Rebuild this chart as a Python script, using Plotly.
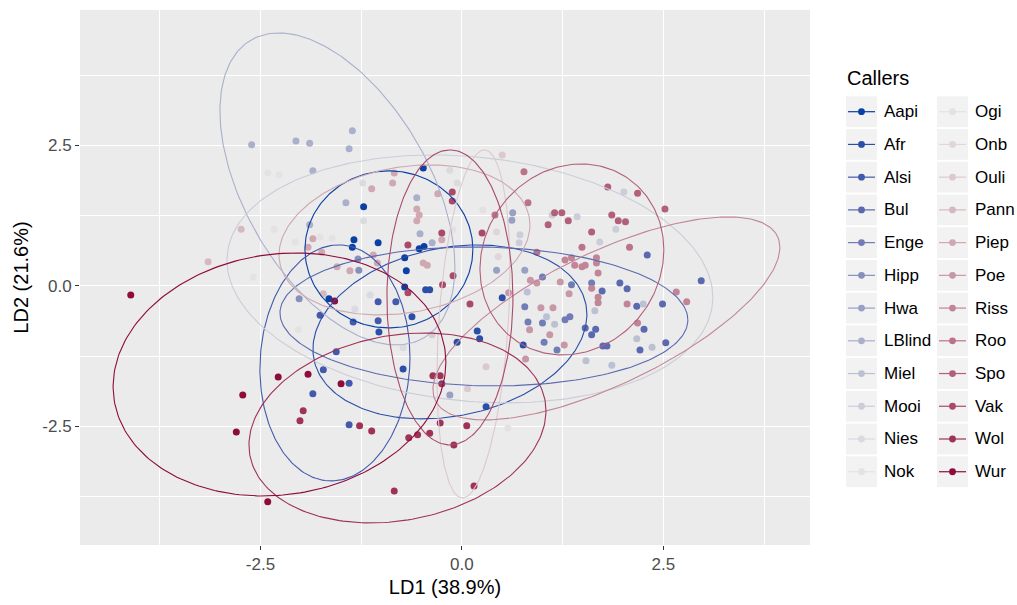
import numpy as np
import plotly.graph_objects as go

# ---- groups and their colours -------------------------------------------
callers = ["Aapi", "Afr", "Alsi", "Bul", "Enge", "Hipp", "Hwa", "LBlind",
           "Miel", "Mooi", "Nies", "Nok", "Ogi", "Onb", "Ouli", "Pann",
           "Piep", "Poe", "Riss", "Roo", "Spo", "Vak", "Wol", "Wur"]
caller_colors = ["#0a3fa3", "#2b4ea8", "#4359ac", "#5a69b0", "#717db6", "#8590bc",
                 "#98a0c3", "#aab0cc", "#bbc0d2", "#cbcdd9", "#d9dbe0", "#e3e3e5",
                 "#e5e1e2", "#e0d6d8", "#dbc9cd", "#d5b9c0", "#cfa8b2", "#c897a5",
                 "#c18597", "#ba7388", "#b25f79", "#a94a69", "#9f3257", "#8e0b3b"]

# ---- LDA scores (LD1, LD2) per caller ------------------------------------
aapi = [(-1.22, 1.41), (-1.34, 0.82), (-1.36, 0.69), (-1.04, 0.77), (-0.47, 0.70),
        (-0.53, 0.66), (-0.71, 0.50), (-0.69, 0.27), (-0.48, 2.10), (-0.71, -0.02),
        (-1.65, -0.23)]
afr = [(0.50, -0.21), (0.19, -0.80), (0.22, -0.94), (-0.06, -1.00), (0.76, -1.05),
       (0.30, -2.15), (-0.45, -0.07), (-0.40, -0.07), (-0.62, -0.55), (-0.73, -1.48),
       (-1.03, -0.82)]
alsi = [(-1.85, -1.92), (-1.40, -2.47), (-1.40, -1.73), (-1.56, -1.17), (-1.72, -1.49),
        (-1.76, -0.52), (-1.35, -0.64), (-1.04, -0.28), (-0.82, -0.28), (-1.04, -0.62)]
bul = [(1.74, -0.09), (2.05, -0.05), (2.17, -0.36), (2.49, -0.32), (1.53, -0.75),
       (1.66, -0.77), (1.61, -0.87), (1.75, -1.07), (1.80, -1.07), (2.21, -1.14),
       (2.26, -0.77), (2.53, -1.01), (2.97, 0.09), (2.30, 0.55), (1.96, 0.05)]
enge = [(0.78, -0.37), (0.82, -0.64), (1.00, -0.66), (1.28, -0.60), (1.34, -0.55),
        (1.02, -1.00), (1.18, -1.14), (1.36, 0.02), (1.61, 0.05), (1.00, 0.16)]
hipp = [(-1.29, 0.48), (-1.28, 0.28), (-2.02, -0.23)]
hwa = [(0.63, 1.30), (0.62, 1.17), (0.43, 0.28), (0.78, 0.28), (-0.15, -1.94)]
lblind = [(-2.61, 2.51), (-2.06, 2.58), (-1.89, 2.54), (-1.36, 2.76), (-1.40, 2.44),
          (-1.85, 2.05), (-1.44, 1.48), (-1.89, 1.09), (-0.56, 1.57), (-0.52, 0.93),
          (-0.37, 0.77)]
miel = [(0.81, -0.11), (1.05, -0.55), (1.15, -0.68), (1.65, -0.44), (2.25, -0.32),
        (2.17, -0.94), (2.36, -1.09), (1.54, -1.33), (1.86, -1.41)]
mooi = [(2.01, 1.67), (1.43, 1.23), (1.12, 1.26), (1.91, 1.01), (1.71, 0.78),
        (0.72, 0.91), (0.71, 0.77)]
nies = [(-1.22, 1.16), (-1.23, 1.83), (-1.33, -0.41), (-1.14, -0.16), (-0.73, -1.10),
        (-0.15, 2.06), (-0.06, 1.83)]
nok = [(-2.41, 2.01), (-2.27, 1.98), (-2.33, 1.01), (-2.07, 0.78), (-1.76, 0.87),
       (-1.61, 0.85), (-2.59, 0.16), (-2.03, -0.78)]
ogi = [(0.57, -2.53), (-0.11, 1.00), (0.26, 1.35)]
onb = [(0.43, 0.96), (0.45, 0.52)]
ouli = [(0.50, 2.33), (-0.37, -0.87), (0.07, -1.83), (0.30, -1.44)]
pann = [(-2.74, 1.01), (-3.15, 0.43), (-1.72, -0.14)]
piep = [(-1.12, 1.73), (-0.86, 1.83), (-0.84, 2.01), (-0.56, 1.37), (-0.53, 1.26),
        (-0.56, 1.16), (-0.30, 1.64), (-1.10, 0.55), (-1.39, 0.27), (-1.55, 0.34),
        (-1.05, 0.41), (-0.48, 0.41), (-0.43, 0.37), (-0.25, 0.82), (-1.85, 0.84),
        (-1.91, 0.69), (-1.74, 0.60)]
poe = [(0.93, 0.05), (1.22, 0.07), (0.85, 0.10), (0.58, -0.12), (0.98, -0.39),
       (1.13, -0.39), (1.33, -0.14), (0.84, -0.78), (1.09, -0.87), (1.27, -1.05),
       (0.79, -1.30)]
riss = [(1.28, 0.46), (1.36, 0.50), (1.40, 0.37), (1.49, 0.34), (1.53, 0.37),
        (1.67, 0.50), (1.67, 0.41), (1.69, 0.23), (2.05, -0.32), (1.61, -0.04),
        (1.69, -0.20), (1.69, -0.30), (2.18, -0.66), (2.66, -0.11), (2.79, -0.28)]
roo = [(0.77, 2.03), (0.82, 1.48), (0.41, 1.26), (0.93, 0.60), (1.49, 0.69), (2.08, 0.69)]
spo = [(1.81, 1.76), (2.18, 1.65), (2.52, 1.37), (1.15, 1.30), (1.24, 1.30),
       (1.32, 1.16), (1.07, 1.09), (1.86, 1.26), (1.94, 1.16), (2.03, 1.14),
       (1.61, 0.96)]
vak = [(-0.12, 1.67), (-0.12, 1.51), (-0.25, 0.94), (-0.67, 0.73), (0.25, 0.94),
       (-0.11, 0.18), (-0.24, 0.02), (0.10, -0.32), (-0.67, -0.12)]
wol = [(-1.97, -2.22), (-2.01, -2.40), (-1.27, -2.49), (-1.12, -2.58), (-0.66, -2.70),
       (-0.55, -2.65), (-0.40, -2.62), (-0.10, -2.83), (-0.27, -2.44), (0.06, -2.49),
       (0.15, -3.56), (-0.84, -3.65), (-0.36, -1.60), (-0.27, -1.60), (-0.25, -1.74)]
wur = [(-4.11, -0.16), (-2.72, -1.94), (-2.80, -2.60), (-2.28, -1.62), (-1.91, -1.57),
       (-1.50, -1.74), (-2.41, -3.84), (-1.58, -0.27)]

# ---- 95% ellipse summaries: centre, half extent on LD1 / LD2, correlation --
ell_callers = ["Aapi", "Afr", "Alsi", "Bul", "LBlind", "Mooi", "Ouli", "Piep",
               "Riss", "Spo", "Vak", "Wol", "Wur"]
ell_ld1_centre = [-0.906, -0.149, -1.576, 0.273, -1.545, 0.099, 0.143, -0.713,
                  1.793, 1.365, -0.149, -0.800, -2.264]
ell_ld2_centre = [0.650, -0.818, -1.370, -0.543, 1.726, 0.125, -0.676, 0.819,
                  -0.578, 0.471, -0.205, -2.527, -1.575]
ell_ld1_half = [1.042, 1.700, 0.931, 2.531, 1.458, 3.015, 0.453, 1.557,
                2.153, 1.141, 0.782, 1.843, 2.065]
ell_ld2_half = [1.397, 1.548, 2.100, 1.237, 2.776, 2.206, 3.096, 1.335,
                1.806, 1.699, 2.625, 1.690, 2.162]
ell_corr = [0.0, 0.2, 0.05, -0.05, -0.5, -0.15, 0.3, 0.2, 0.7, 0.1, 0.0, 0.18, 0.1]

scores = dict(zip(callers, [aapi, afr, alsi, bul, enge, hipp, hwa, lblind, miel, mooi,
                            nies, nok, ogi, onb, ouli, pann, piep, poe, riss, roo,
                            spo, vak, wol, wur]))
colour_of = dict(zip(callers, caller_colors))

fig = go.Figure()

# points
for name in callers:
    pts = scores[name]
    fig.add_trace(go.Scatter(
        x=[p[0] for p in pts], y=[p[1] for p in pts], mode="markers", name=name,
        marker=dict(color=colour_of[name], size=7, line=dict(width=0)),
        showlegend=False))

# ellipses
t = np.linspace(0, 2 * np.pi, 240)
for name, cx, cy, wx, wy, r in zip(ell_callers, ell_ld1_centre, ell_ld2_centre,
                                   ell_ld1_half, ell_ld2_half, ell_corr):
    ex = cx + wx * np.cos(t)
    ey = cy + wy * (r * np.cos(t) + np.sqrt(1 - r * r) * np.sin(t))
    fig.add_trace(go.Scatter(x=ex, y=ey, mode="lines", name=name,
                             line=dict(color=colour_of[name], width=1.1),
                             hoverinfo="skip", showlegend=False))

# ---- layout ---------------------------------------------------------------
W, H = 1017, 605
ML, MR, MT, MB = 80, 207, 10, 60
PW, PH = W - ML - MR, H - MT - MB
FONT = "Liberation Sans, Arial, sans-serif"


def px_x(px):
    return (px - ML) / PW


def px_y(py):
    return (H - MB - py) / PH


axis_common = dict(
    showgrid=True, gridcolor="white", gridwidth=1.1, zeroline=False, showline=False,
    ticks="outside", ticklen=4, tickwidth=1, tickcolor="#333333",
    tickfont=dict(size=17, color="#4d4d4d", family=FONT),
    tickvals=[-2.5, 0, 2.5], ticktext=["-2.5", "0.0", "2.5"],
    minor=dict(tickvals=[-3.75, -1.25, 1.25, 3.75], showgrid=True,
               gridcolor="white", gridwidth=0.55, ticks=""),
)
fig.update_xaxes(range=[-4.74, 4.32], **axis_common,
                 title=dict(text="LD1 (38.9%)", standoff=6,
                            font=dict(size=20, color="black", family=FONT)))
fig.update_yaxes(range=[-4.61, 4.91], **axis_common,
                 title=dict(text="LD2 (21.6%)", standoff=8,
                            font=dict(size=20, color="black", family=FONT)))

# ---- legend drawn as keys + labels in two columns -------------------------
shapes, annotations = [], []
annotations.append(dict(text="Callers", x=px_x(845), y=px_y(78), xref="paper", yref="paper",
                        xanchor="left", yanchor="middle", showarrow=False,
                        font=dict(size=20, color="black", family=FONT)))
row_gap = 32.73
for i, name in enumerate(callers):
    col, row = divmod(i, 12)
    cy = 111.7 + row_gap * row
    x0 = 846 + 91 * col
    x1 = x0 + 31
    shapes.append(dict(type="rect", xref="paper", yref="paper",
                       x0=px_x(x0), x1=px_x(x1), y0=px_y(cy - 15.4), y1=px_y(cy + 15.4),
                       fillcolor="#f2f2f2", line=dict(width=0), layer="above"))
    shapes.append(dict(type="line", xref="paper", yref="paper",
                       x0=px_x(x0 + 2), x1=px_x(x1 - 2), y0=px_y(cy), y1=px_y(cy),
                       line=dict(color=colour_of[name], width=1.2), layer="above"))
    cx = (x0 + x1) / 2
    shapes.append(dict(type="circle", xref="paper", yref="paper",
                       x0=px_x(cx - 3.4), x1=px_x(cx + 3.4),
                       y0=px_y(cy + 3.4), y1=px_y(cy - 3.4),
                       fillcolor=colour_of[name], line=dict(width=0), layer="above"))
    annotations.append(dict(text=name, x=px_x(x1 + 5), y=px_y(cy), xref="paper", yref="paper",
                            xanchor="left", yanchor="middle", showarrow=False,
                            font=dict(size=17, color="black", family=FONT)))

fig.update_layout(
    width=W, height=H,
    margin=dict(l=ML, r=MR, t=MT, b=MB, autoexpand=False),
    paper_bgcolor="white", plot_bgcolor="#ebebeb",
    showlegend=False, shapes=shapes, annotations=annotations,
    font=dict(family=FONT),
)

fig.write_html("out.html")
